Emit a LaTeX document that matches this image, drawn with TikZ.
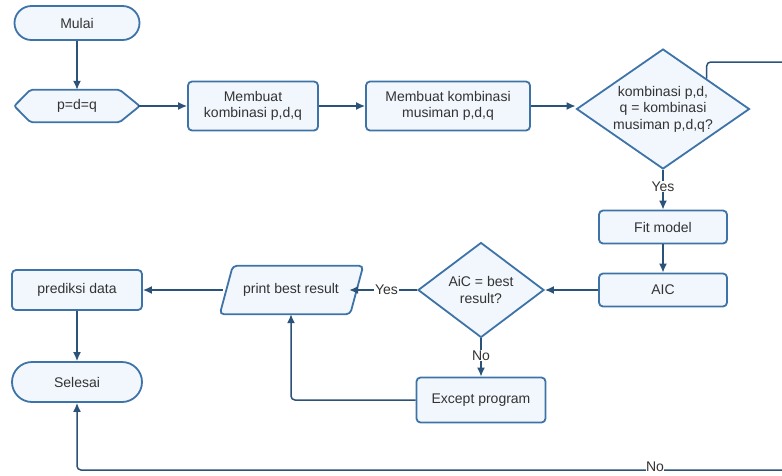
\documentclass[tikz,border=0pt]{standalone}
\usepackage{fontspec}
\setmainfont{Liberation Sans}
\usetikzlibrary{arrows.meta,shapes.geometric,calc}
\definecolor{bord}{HTML}{3E73A8}
\definecolor{boxfill}{HTML}{F1F7FD}
\definecolor{linec}{HTML}{2B5279}
\definecolor{txt}{HTML}{333333}
\begin{document}
\begin{tikzpicture}[x=1pt,y=-1pt,
  font=\fontsize{14}{16.5}\selectfont, text=txt,
  base/.style={draw=bord, fill=boxfill, line width=1.8pt},
  procbox/.style={base, rounded corners=4pt, align=center, inner sep=0pt},
  term/.style={base, rounded corners=17pt, inner sep=0pt},
  dec/.style={base, diamond, inner sep=0pt},
  ghost/.style={inner sep=0pt, align=center},
  conn/.style={draw=linec, line width=1.5pt, -{Latex[length=9pt,width=8pt]}},
  plain/.style={draw=linec, line width=1.5pt},
  lbl/.style={fill=white, inner sep=1pt, text=txt}
]
\useasboundingbox (0,0) rectangle (782,475);

% nodes
\node[term, minimum width=125pt, minimum height=34pt] (mulai) at (77,23) {Mulai};
\node[ghost, minimum width=125pt, minimum height=32pt] (pdq) at (77,106) {};
\draw[base, rounded corners=2pt] (pdq.west) -- ([xshift=16pt]pdq.north west) -- ([xshift=-20pt]pdq.north east) -- (pdq.east) -- ([xshift=-20pt]pdq.south east) -- ([xshift=16pt]pdq.south west) -- cycle;
\node[ghost] at (pdq) {p=d=q};

\node[procbox, minimum width=130pt, minimum height=49pt] (komb) at (253,106) {Membuat\\kombinasi p,d,q};
\node[procbox, minimum width=164pt, minimum height=49pt] (musim) at (448,106) {Membuat kombinasi\\musiman p,d,q};
\node[dec, minimum width=173pt, minimum height=120pt] (d1) at (663,109) {};
\node[ghost] at (d1) {kombinasi p,d,\\q = kombinasi\\musiman p,d,q?};

\node[procbox, minimum width=128pt, minimum height=33pt] (fit) at (663,227) {Fit model};
\node[procbox, minimum width=128pt, minimum height=33pt] (aic) at (663,290) {AIC};
\node[dec, minimum width=126pt, minimum height=95pt] (d2) at (481,290) {};
\node[ghost] at (d2) {AiC = best\\result?};

\node[ghost, minimum width=130pt, minimum height=48pt] (print) at (291,290) {};
\draw[base, rounded corners=4pt] ([xshift=-6pt]print.south west) -- ([xshift=7pt]print.north west) -- ([xshift=7pt]print.north east) -- ([xshift=-6pt]print.south east) -- cycle;
\node[ghost] at (print) {print best result};

\node[procbox, minimum width=130pt, minimum height=40pt] (pred) at (77,290) {prediksi data};
\node[term, rounded corners=20pt, minimum width=130pt, minimum height=40pt] (selesai) at (77,382) {Selesai};
\node[procbox, minimum width=129pt, minimum height=45pt] (exc) at (481,400) {Except program};

\coordinate (outR) at (782,62);
\coordinate (inR) at (782,470);
\coordinate (corner) at (77,470);

% connectors
\draw[conn] (mulai) -- (pdq);
\draw[conn] ([xshift=-2pt]pdq.east) -- (komb);
\draw[conn] (komb) -- (musim);
\draw[conn] (musim.east) -- (musim.east -| d1.west);
\draw[conn] (d1.south) -- node[lbl, pos=0.42] {Yes} (fit.north);
\draw[conn] (fit) -- (aic);
\draw[conn] (aic) -- (d2.east);
\draw[conn] (d2.west) -- node[lbl, pos=0.45] {Yes} ([xshift=-7pt]print.east);
\draw[conn] ([xshift=-3pt]print.west) -- (pred);
\draw[conn] (pred) -- (selesai);
\draw[conn] (d2.south) -- node[lbl, pos=0.45] {No} (exc.north);
\draw[conn, rounded corners=4pt] (exc.west) -| (print.south);
\draw[plain, rounded corners=4pt] ($(d1.north)!0.5!(d1.east)$) |- (outR);
\draw[conn, rounded corners=4pt] (inR) -- (corner) -- (selesai.south);
\node[lbl, inner sep=0.5pt] (nolbl) at (655,466.5) {No};
\end{tikzpicture}
\end{document}
